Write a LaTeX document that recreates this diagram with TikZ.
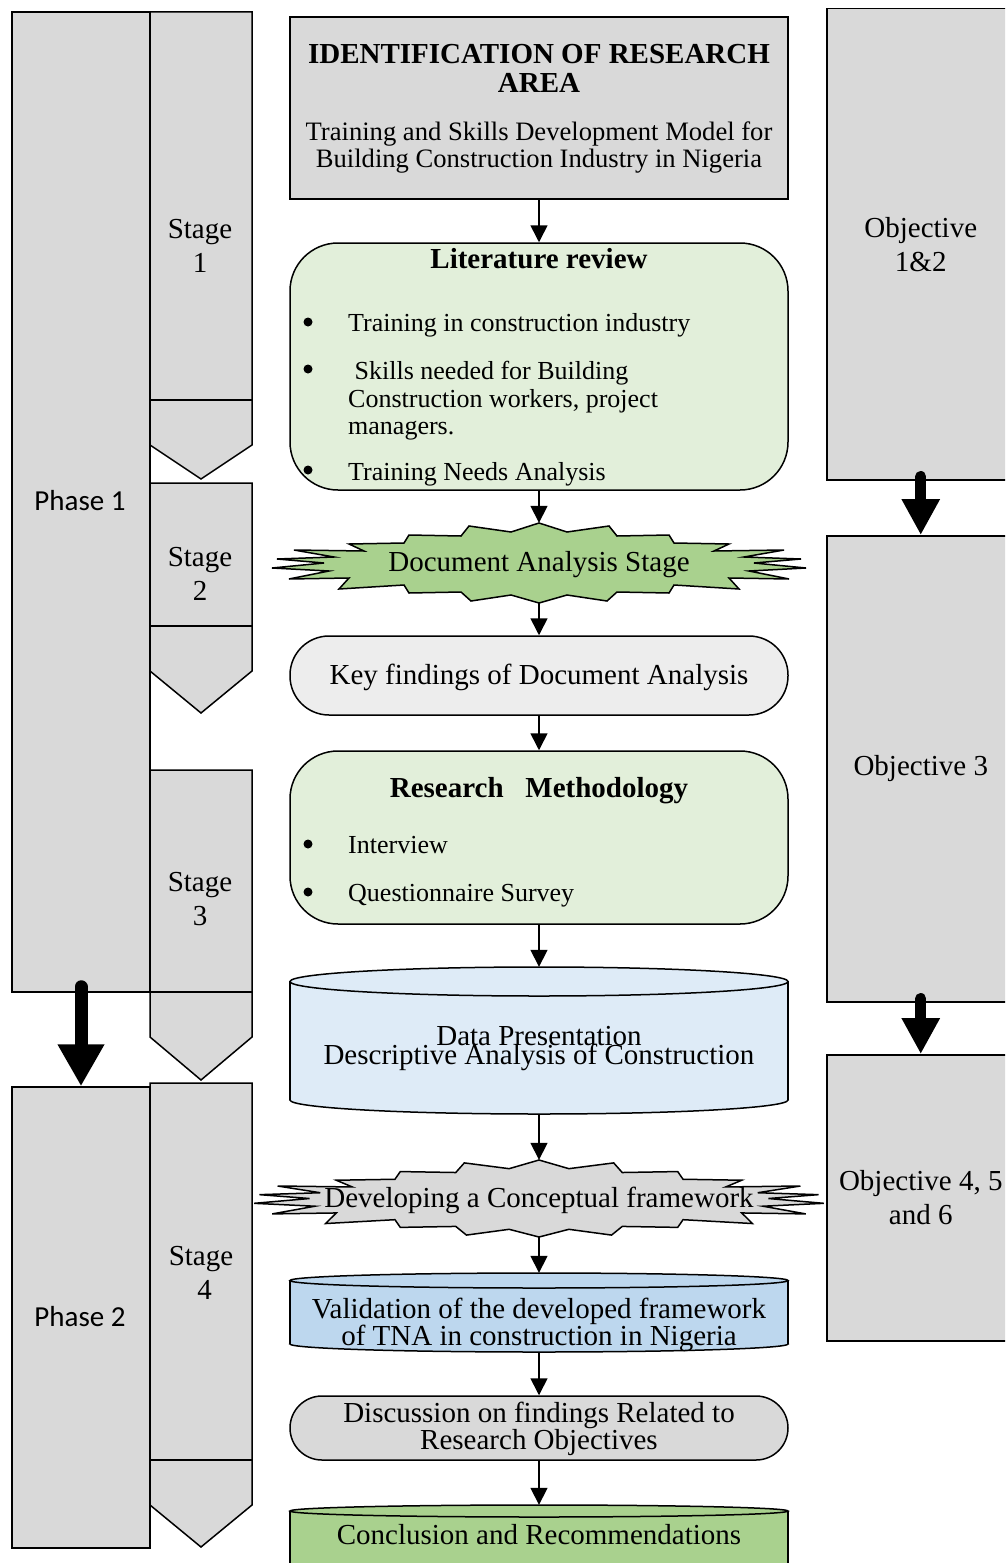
\documentclass[tikz,border=0pt]{standalone}
\usepackage{fontspec}
\setmainfont{Liberation Serif}
\newfontfamily\phasefont{Carlito}
\usetikzlibrary{arrows.meta}

\definecolor{boxgray}{HTML}{D9D9D9}
\definecolor{keygray}{HTML}{EDEDED}
\definecolor{palegreen}{HTML}{E2EFDA}
\definecolor{midgreen}{HTML}{A9D18E}
\definecolor{paleblue}{HTML}{DEEBF7}
\definecolor{midblue}{HTML}{BDD7EE}

% a stage marker: box, divider and a downward point
% #1 top, #2 divider, #3 end of the sides, #4 tip
\newcommand\stagemarker[4]{%
  \filldraw[outline, fill=boxgray] (150,#1) -- (252,#1) -- (252,#3) -- (201,#4) -- (150,#3) -- cycle;
  \draw[outline] (150,#2) -- (252,#2);
}

% a drum (cylinder) across the centre column
% #1 fill, #2 top centre y, #3 top radius, #4 bottom centre y, #5 bottom radius
\newcommand\drumshape[5]{%
  \filldraw[outline, fill=#1] (539,#4) ellipse [x radius=249pt, y radius=#5pt];
  \fill[#1] (290,#2) rectangle (788,#4);
  \draw[outline] (290,#2) -- (290,#4) (788,#2) -- (788,#4);
  \filldraw[outline, fill=#1] (539,#2) ellipse [x radius=249pt, y radius=#3pt];
}

\tikzset{
  burst/.pic={
    \path[pic actions] (0,-40) -- (28,-31) -- (70,-37) -- (78,-27) -- (130,-28) -- (135,-20)
      -- (190,-19) -- (175,-12) -- (245,-13) -- (205,-6) -- (262,-4) -- (215,0) -- (267,5)
      -- (210,8) -- (250,16) -- (190,15) -- (200,26) -- (135,22) -- (130,30) -- (78,29)
      -- (68,38) -- (28,32) -- (0,40) -- (-28,32) -- (-68,38) -- (-78,29) -- (-130,30)
      -- (-135,22) -- (-200,26) -- (-190,15) -- (-250,16) -- (-210,8) -- (-267,5) -- (-215,0)
      -- (-262,-4) -- (-205,-6) -- (-245,-13) -- (-175,-12) -- (-190,-19) -- (-135,-20)
      -- (-130,-28) -- (-78,-27) -- (-70,-37) -- (-28,-31) -- cycle;
  }
}

\begin{document}
\begin{tikzpicture}[x=1pt, y=-1pt, line join=miter,
  outline/.style={draw=black, line width=1.5pt},
  shapebox/.style={outline, inner sep=0pt, minimum width=498, rectangle},
  spot/.style={inner sep=0pt, minimum width=498},
  txt/.style={inner sep=0pt, align=center, font=\fontsize{29}{34}\selectfont},
  bold/.style={inner sep=0pt, align=center, font=\fontsize{29}{29}\selectfont\bfseries},
  item/.style={inner sep=0pt, anchor=base west, font=\fontsize{26}{27.5}\selectfont},
  phasetxt/.style={inner sep=0pt, font=\phasefont\fontsize{29}{34}\selectfont},
  flow/.style={line width=1.6pt, -{Triangle[length=17pt, width=17pt]}},
  fatarrow/.style={line width=13pt, line cap=round, -{Triangle[length=42pt, width=44pt]}},
  objarrow/.style={line width=11pt, line cap=round, -{Triangle[length=36pt, width=36pt]}},
]
\useasboundingbox (0,0) rectangle (1005,1563);
\clip (0,0) rectangle (1005,1563);

% ---------- phases and stages ----------
\node[outline, inner sep=0pt, fill=boxgray, minimum width=138, minimum height=980] (ph1) at (81,502) {};
\node[outline, inner sep=0pt, fill=boxgray, minimum width=138, minimum height=461] (ph2) at (81,1317.5) {};
\node[phasetxt] (ph1t) at (80,501) {Phase 1};
\node[phasetxt] (ph2t) at (80,1317) {Phase 2};
\draw[fatarrow] ([yshift=6pt]ph1.south) -- (ph2.north);

\stagemarker{12}{400}{445}{479}
\stagemarker{483}{626}{671}{713}
\stagemarker{770}{992}{1037}{1080}
\stagemarker{1083}{1460}{1505}{1547}
\node[txt] (st1) at (200,246) {Stage\\1};
\node[txt] (st2) at (200,574) {Stage\\2};
\node[txt] (st3) at (200,899) {Stage\\3};
\node[txt] (st4) at (201,1273) {Stage\\\ 4};

% ---------- objectives ----------
\node[outline, inner sep=0pt, fill=boxgray, minimum width=188, minimum height=471, anchor=north west,
      txt] (obj12) at (826,8) {Objective\\1\&2};
\node[outline, inner sep=0pt, fill=boxgray, minimum width=188, minimum height=466, anchor=north west,
      txt] (obj3) at (826,535) {Objective 3};
\node[outline, inner sep=0pt, fill=boxgray, minimum width=188, minimum height=286, anchor=north west,
      txt] (obj456) at (826,1054) {Objective 4, 5\\and 6};
\draw[objarrow] ([yshift=4pt]obj12.south) -- (obj3.north);
\draw[objarrow] ([yshift=4pt]obj3.south) -- (obj456.north);

% ---------- centre column ----------
\node[shapebox, fill=boxgray, minimum height=182] (top) at (539,108) {};
\node[bold] (toptitle) at (539,68) {IDENTIFICATION OF RESEARCH\\AREA};
\node[txt, font=\fontsize{26.6}{27}\selectfont] (topsub) at (539,148) {Training and Skills Development Model for\\Building Construction Industry in Nigeria};

\node[shapebox, fill=palegreen, minimum height=247, rounded corners=48pt] (lit) at (539,366.5) {};
\node[bold] (littitle) at (539,259) {Literature review};
\fill (308,322) circle (4.5);
\fill (308,369) circle (4.5);
\fill (308,470) circle (4.5);
\node[item] (lit1) at (348,331) {Training in construction industry};
\node[item] (lit2a) at (348,379) {\ Skills needed for Building};
\node[item] (lit2b) at (348,407) {Construction workers, project};
\node[item] (lit2c) at (348,434) {managers.};
\node[item] (lit3) at (348,480) {Training Needs Analysis};

\node[spot, minimum height=80] (doc) at (539,563) {};
\pic[outline, fill=midgreen] at (doc.center) {burst};
\node[txt] (doct) at (539,565) {Document Analysis Stage};

\node[shapebox, fill=keygray, minimum height=79, rounded corners=39pt] (key) at (539,675.5) {};
\node[txt] (keyt) at (539,677) {Key findings of Document Analysis};

\node[shapebox, fill=palegreen, minimum height=173, rounded corners=48pt] (meth) at (539,837.5) {};
\node[bold] (metht) at (539,791) {Research~~~Methodology};
\fill (308,844) circle (4.5);
\fill (308,892) circle (4.5);
\node[item] (meth1) at (348,853) {Interview};
\node[item] (meth2) at (348,901) {Questionnaire Survey};

\drumshape{paleblue}{981.5}{14.5}{1100}{14}
\node[spot, minimum height=147] (data) at (539,1040.5) {};
\node[txt] (datat1) at (539,1036) {Data Presentation};
\node[txt] (datat2) at (539,1057) {Descriptive Analysis of Construction};

\node[spot, minimum height=77] (concept) at (539,1198.5) {};
\pic[outline, fill=boxgray, xscale=1.067, yscale=0.9625] at (concept.center) {burst};
\node[txt] (conceptt) at (539,1200) {Developing a Conceptual framework};

\drumshape{midblue}{1280.5}{7.5}{1344}{8}
\node[spot, minimum height=79] (valid) at (539,1312.5) {};
\node[txt, font=\fontsize{29}{27}\selectfont] (validt) at (539,1325) {Validation of the developed framework\\of TNA in construction in Nigeria};

\node[shapebox, fill=boxgray, minimum height=64, rounded corners=32pt] (disc) at (539,1428) {};
\node[txt, font=\fontsize{29}{26}\selectfont] (disct) at (539,1429) {Discussion on findings Related to\\Research Objectives};

\drumshape{midgreen}{1511}{6}{1600}{6}
\node[spot, minimum height=58] (concl) at (539,1534) {};
\node[txt] (conclt) at (539,1535) {Conclusion and Recommendations};

% ---------- flow ----------
\draw[flow] (top.south) -- (lit.north);
\draw[flow] (lit.south) -- (doc.north);
\draw[flow] (doc.south) -- (key.north);
\draw[flow] (key.south) -- (meth.north);
\draw[flow] (meth.south) -- (data.north);
\draw[flow] (data.south) -- (concept.north);
\draw[flow] (concept.south) -- (valid.north);
\draw[flow] (valid.south) -- (disc.north);
\draw[flow] (disc.south) -- (concl.north);
\end{tikzpicture}
\end{document}
